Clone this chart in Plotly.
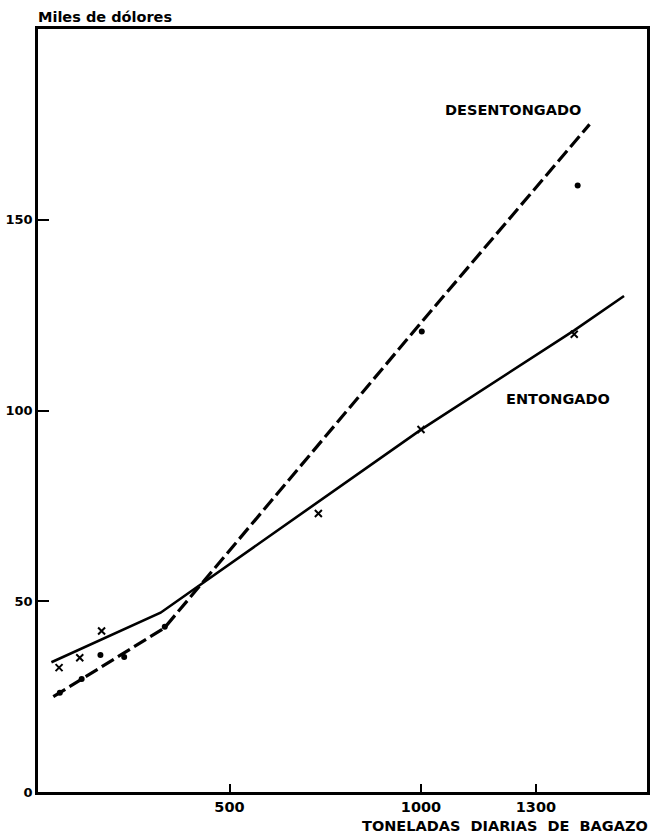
import plotly.graph_objects as go

# Fitted cost lines (thousand dollars vs. tons of bagasse per day)
entongado_x = [35, 320, 1000, 1400, 1530]
entongado_y = [34, 47, 95, 121, 130]
desentongado_x = [40, 330, 1000, 1440]
desentongado_y = [25, 43, 123, 175]

# Observed points
entongado_obs_x = [55, 109, 166, 732, 1000, 1400]
entongado_obs_y = [32.6, 35.2, 42.2, 73, 95, 120]
desentongado_obs_x = [57, 114, 163, 225, 331, 1002, 1409]
desentongado_obs_y = [26, 29.6, 35.9, 35.4, 43.3, 120.7, 159]

x_ticks = [500, 1000, 1300]
y_ticks = [0, 50, 100, 150]

FONT = "DejaVu Sans"

fig = go.Figure()

fig.add_trace(go.Scatter(
    x=entongado_x, y=entongado_y, mode="lines",
    line=dict(color="black", width=2.6), showlegend=False, hoverinfo="skip"))
fig.add_trace(go.Scatter(
    x=desentongado_x, y=desentongado_y, mode="lines",
    line=dict(color="black", width=3.2, dash="14px,5px"), showlegend=False, hoverinfo="skip"))
fig.add_trace(go.Scatter(
    x=entongado_obs_x, y=entongado_obs_y, mode="markers",
    marker=dict(symbol="x-thin", size=7, line=dict(color="black", width=2)),
    showlegend=False))
fig.add_trace(go.Scatter(
    x=desentongado_obs_x, y=desentongado_obs_y, mode="markers",
    marker=dict(symbol="circle", size=6, color="black"),
    showlegend=False))

label_font = dict(family=FONT, size=14.5, color="black", weight="bold")
fig.add_annotation(x=1240, y=178.8, xref="x", yref="y", text="DESENTONGADO",
                   showarrow=False, font=label_font)
fig.add_annotation(x=1357, y=103, xref="x", yref="y", text="ENTONGADO",
                   showarrow=False, font=label_font)
fig.add_annotation(x=-0.003, y=1.0157, xref="paper", yref="paper", text="Miles de dólores",
                   xanchor="left", yanchor="middle", showarrow=False,
                   font=dict(family=FONT, size=14.5, color="black", weight="bold"))
fig.add_annotation(x=1.005, y=-0.044, xref="paper", yref="paper",
                   text="TONELADAS\u00a0\u00a0DIARIAS\u00a0\u00a0DE\u00a0\u00a0BAGAZO",
                   xanchor="right", yanchor="middle", showarrow=False,
                   font=dict(family=FONT, size=14.5, color="black", weight="bold"))

axis_common = dict(
    showgrid=False, zeroline=False, showline=True, linecolor="black", linewidth=2.5,
    mirror=True, ticks="inside", tickcolor="black", tickwidth=2,
)

fig.update_xaxes(range=[0, 1590], tickvals=x_ticks, ticklen=8,
                 tickfont=dict(family=FONT, size=14.5, color="black", weight="bold"),
                 **axis_common)
fig.update_yaxes(range=[0, 200], tickvals=y_ticks, ticklen=11,
                 tickfont=dict(family=FONT, size=13, color="black", weight="bold"),
                 **axis_common)

fig.update_layout(
    width=655, height=837,
    margin=dict(l=38, r=5, t=29, b=45),
    paper_bgcolor="white", plot_bgcolor="white",
)

fig.write_html("out.html")
